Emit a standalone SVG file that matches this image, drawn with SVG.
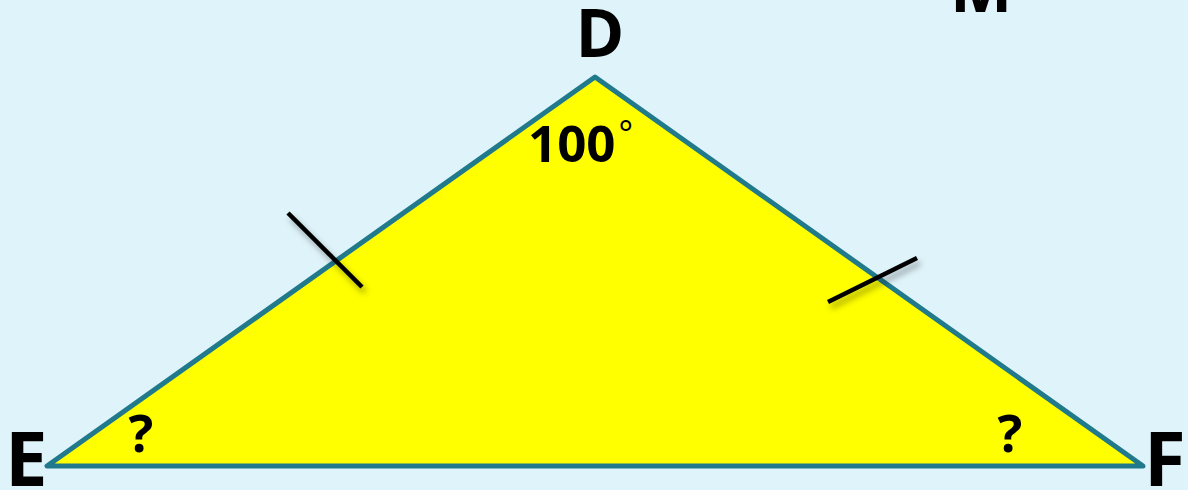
<svg xmlns="http://www.w3.org/2000/svg" width="1188" height="490" viewBox="0 0 1188 490">
<defs>
<style>
.lbl{font-family:"Open Sans","Liberation Sans",sans-serif;font-weight:bold;fill:#000}
.tick{stroke:#000;stroke-width:4.5;stroke-linecap:butt;filter:url(#sh)}
</style>
<filter id="sh" x="-30%" y="-30%" width="160%" height="160%">
<feDropShadow dx="3" dy="5" stdDeviation="3" flood-color="#000" flood-opacity="0.35"/>
</filter>
</defs>
<rect width="1188" height="490" fill="#DFF4FA"/>
<g id="triangle">
<polygon points="595,77 47,466 1143,466" fill="#FFFF00" stroke="#21798C" stroke-width="5" stroke-linejoin="round"/>
</g>
<g id="ticks">
<line class="tick" x1="288" y1="213" x2="362" y2="287"/>
<line class="tick" x1="828" y1="302" x2="917" y2="258"/>
</g>
<g id="labels">
<text class="lbl" x="600" y="57" font-size="66" text-anchor="middle">D</text>
<text class="lbl" x="950" y="12" font-size="66">M</text>
<text class="lbl" x="5" y="486" font-size="76">E</text>
<text class="lbl" x="1144" y="486" font-size="76">F</text>
<text class="lbl" x="528" y="162" font-size="51">100<tspan font-weight="normal" font-size="34" dx="3" dy="-16">°</tspan></text>
<text class="lbl" x="141" y="452" font-size="52" text-anchor="middle">?</text>
<text class="lbl" x="1010" y="452" font-size="52" text-anchor="middle">?</text>
</g>
</svg>
